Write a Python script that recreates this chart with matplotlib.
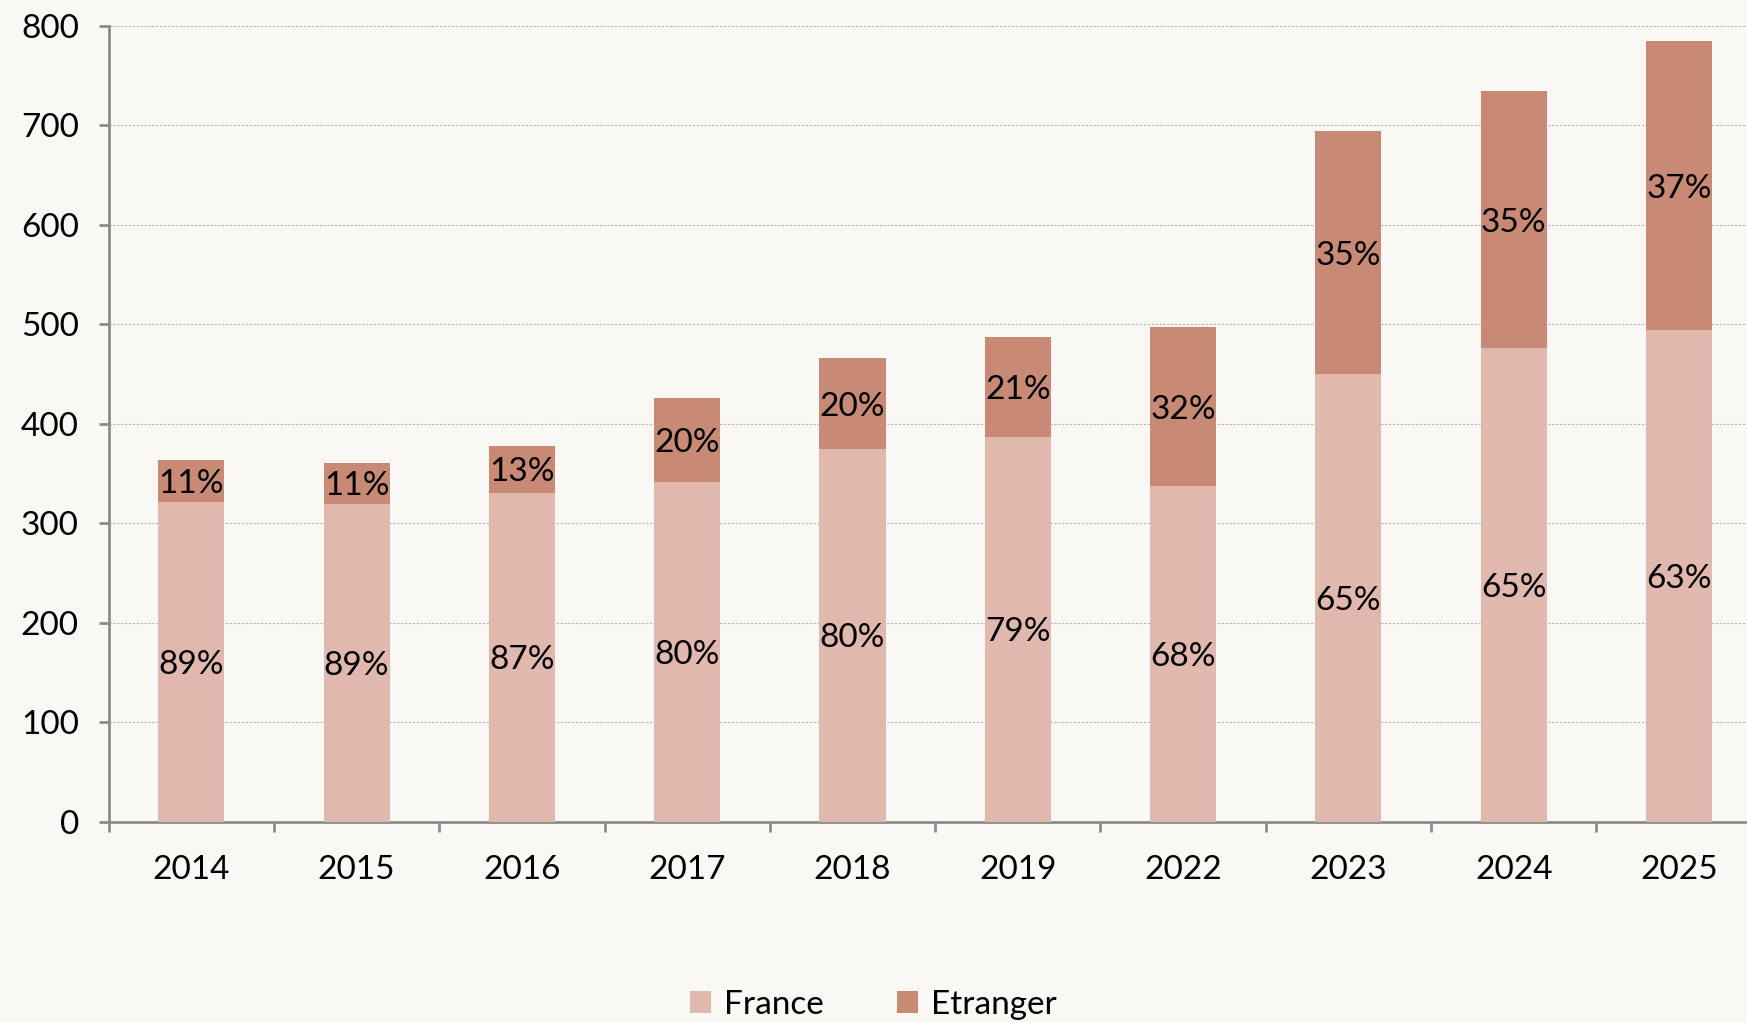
import matplotlib.pyplot as plt
import numpy as np

years = ['2014', '2015', '2016', '2017', '2018', '2019', '2022', '2023', '2024', '2025']
france = [322, 320, 331, 342, 375, 387, 338, 450, 476, 494]
etranger = [42, 41, 47, 84, 91, 100, 159, 244, 259, 291]
france_pct = ['89%', '89%', '87%', '80%', '80%', '79%', '68%', '65%', '65%', '63%']
etranger_pct = ['11%', '11%', '13%', '20%', '20%', '21%', '32%', '35%', '35%', '37%']

c_france = '#E0B8AD'
c_etranger = '#C98A75'
bg = '#F9F8F5'
axis_col = '#8C8C8C'

plt.rcParams['font.family'] = ['Lato', 'DejaVu Sans']

fig = plt.figure(figsize=(17.47, 10.23), dpi=100, facecolor=bg)
ax = fig.add_axes([0.0622, 0.1965, 0.9462, 0.7781], facecolor=bg)

x = np.arange(len(years))
w = 0.40
b1 = ax.bar(x, france, w, color=c_france, label='France', zorder=3)
b2 = ax.bar(x, etranger, w, bottom=france, color=c_etranger, label='Etranger', zorder=3)

for i in range(len(years)):
    ax.text(x[i], france[i] / 2, france_pct[i], ha='center', va='center_baseline',
            fontsize=24, color='black', zorder=4)
    ax.text(x[i], france[i] + etranger[i] / 2, etranger_pct[i], ha='center',
            va='center_baseline', fontsize=24, color='black', zorder=4)

ax.set_xlim(-0.5, len(years) - 0.5)
ax.set_ylim(0, 800)
ax.set_yticks(range(0, 801, 100))
ax.set_xticks(x)
ax.set_xticklabels(years)
ax.set_xticks(np.arange(-0.5, len(years) - 0.5, 1), minor=True)

ax.yaxis.grid(True, linestyle=(0, (2, 1.5)), color='#B5B5B5', linewidth=0.8, zorder=0)

for s in ['top', 'right']:
    ax.spines[s].set_visible(False)
for s in ['left', 'bottom']:
    ax.spines[s].set_color(axis_col)
    ax.spines[s].set_linewidth(2)

ax.tick_params(axis='y', length=7.5, width=2, color=axis_col, labelsize=24, pad=14)
ax.tick_params(axis='x', which='major', length=0, labelsize=24, pad=24)
ax.tick_params(axis='x', which='minor', length=7.5, width=2, color=axis_col)

fig.legend(handles=[b1, b2], labels=['France', 'Etranger'], loc='lower center',
           bbox_to_anchor=(0.5, -0.026), ncol=2, frameon=False, fontsize=24,
           handlelength=0.62, handleheight=0.62, handletextpad=0.4, columnspacing=2.2)

fig.savefig('out.png', dpi=100, facecolor=bg)
